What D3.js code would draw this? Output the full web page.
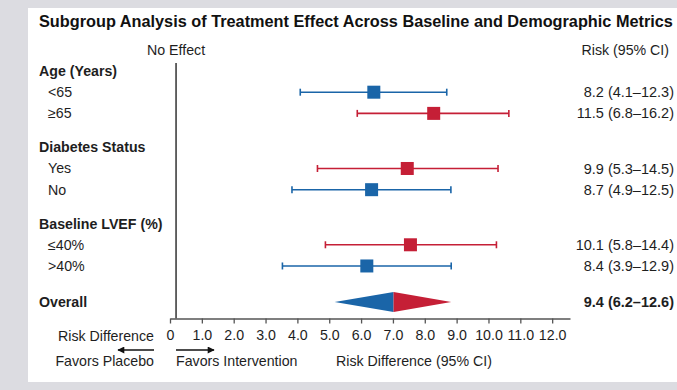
<!DOCTYPE html>
<html>
<head>
<meta charset="utf-8">
<script src="https://cdn.jsdelivr.net/npm/d3@7"></script>
<style>
  html, body { margin: 0; padding: 0; background: #dcdce1; }
  svg { display: block; font-family: "Liberation Sans", Arial, Helvetica, sans-serif; }
</style>
</head>
<body>
<svg id="chart" width="677" height="390"></svg>
<script>
// ---------------- Data ----------------
const title = "Subgroup Analysis of Treatment Effect Across Baseline and Demographic Metrics";
const groups = ["Age (Years)", "Diabetes Status", "Baseline LVEF (%)"];
const subgroups = ["<65", "≥65", "Yes", "No", "≤40%", ">40%"];
const subgroupGroup = [0, 0, 1, 1, 2, 2];
const estimates = [6.40, 8.28, 7.45, 6.33, 7.55, 6.18];
const lowerCI = [4.09, 5.88, 4.63, 3.83, 4.88, 3.53];
const upperCI = [8.69, 10.64, 10.30, 8.82, 10.25, 8.83];
const riskLabels = ["8.2 (4.1–12.3)", "11.5 (6.8–16.2)", "9.9 (5.3–14.5)", "8.7 (4.9–12.5)", "10.1 (5.8–14.4)", "8.4 (3.9–12.9)"];
const overallLabel = "Overall";
const overallEstimate = [7.02];
const overallCI = [5.17, 8.83];
const overallRisk = "9.4 (6.2–12.6)";
const noEffectValue = 0.19;
const tickValues = [0, 1, 2, 3, 4, 5, 6, 7, 8, 9, 10, 11, 12];
const tickLabels = ["0", "1.0", "2.0", "3.0", "4.0", "5.0", "6.0", "7.0", "8.0", "9.0", "10.0", "11.0", "12.0"];

// ---------------- Style ----------------
const BLUE = "#1a65a8";
const RED = "#c51f36";
const TEXT = "#1e1e1e";
const FS = 14.2;

const svg = d3.select("#chart");
svg.append("rect").attr("x", 0).attr("y", 0).attr("width", 677).attr("height", 390).attr("fill", "#dcdce1");
svg.append("rect").attr("x", 28).attr("y", 8).attr("width", 649).attr("height", 374).attr("fill", "#ffffff");

// x scale
const x = d3.scaleLinear().domain([0, 12.56]).range([170, 570]);

// build rows with slot positions
const rows = [];
let slot = 0;
groups.forEach((g, gi) => {
  if (gi > 0) slot += 1.6;
  rows.push({ type: "header", label: g, slot });
  subgroups.forEach((s, i) => {
    if (subgroupGroup[i] === gi) {
      slot += 1;
      rows.push({ type: "item", label: s, slot, est: estimates[i], lo: lowerCI[i], hi: upperCI[i], risk: riskLabels[i] });
    }
  });
});
slot += 1.7;
rows.push({ type: "overall", label: overallLabel, slot, est: overallEstimate[0], lo: overallCI[0], hi: overallCI[1], risk: overallRisk });

const y = d3.scaleLinear().domain([0, slot]).range([71, 302]);

// Title
svg.append("text").attr("x", 39).attr("y", 27)
  .attr("font-size", 16.3).attr("font-weight", "bold").attr("fill", "#111")
  .text(title);

// column headers
svg.append("text").attr("x", x(noEffectValue)).attr("y", 55)
  .attr("text-anchor", "middle").attr("font-size", FS).attr("fill", TEXT).text("No Effect");
svg.append("text").attr("x", 669).attr("y", 55)
  .attr("text-anchor", "end").attr("font-size", FS).attr("fill", TEXT).text("Risk (95% CI)");

// No effect line
svg.append("line")
  .attr("x1", x(noEffectValue)).attr("x2", x(noEffectValue))
  .attr("y1", 63).attr("y2", 318.5)
  .attr("stroke", "#333").attr("stroke-width", 1.5);

// Row labels
rows.forEach(r => {
  svg.append("text")
    .attr("x", r.type === "item" ? 48 : 39)
    .attr("y", y(r.slot)).attr("dy", "0.35em")
    .attr("font-size", FS)
    .attr("font-weight", r.type === "item" ? "normal" : "bold")
    .attr("fill", TEXT)
    .text(r.label);
  if (r.risk) {
    svg.append("text")
      .attr("x", 674).attr("y", y(r.slot)).attr("dy", "0.35em")
      .attr("text-anchor", "end").attr("font-size", 14.5)
      .attr("font-weight", r.type === "overall" ? "bold" : "normal")
      .attr("fill", TEXT).text(r.risk);
  }
});

// Items
const overallEst = overallEstimate[0];
const items = rows.filter(r => r.type === "item");
const g = svg.append("g");
items.forEach(r => {
  const col = r.est > overallEst ? RED : BLUE;
  const yy = y(r.slot);
  g.append("line").attr("x1", x(r.lo)).attr("x2", x(r.hi)).attr("y1", yy).attr("y2", yy)
    .attr("stroke", col).attr("stroke-width", 1.6);
  [r.lo, r.hi].forEach(v => {
    g.append("line").attr("x1", x(v)).attr("x2", x(v)).attr("y1", yy - 3.5).attr("y2", yy + 3.5)
      .attr("stroke", col).attr("stroke-width", 1.6);
  });
  g.append("rect").attr("x", x(r.est) - 6.5).attr("y", yy - 6.5).attr("width", 13).attr("height", 13)
    .attr("fill", col);
});

// Overall diamond
const ov = rows.find(r => r.type === "overall");
const oy = y(ov.slot);
const dh = 10;
g.append("path")
  .attr("d", `M${x(ov.lo)},${oy} L${x(ov.est)},${oy - dh} L${x(ov.est)},${oy + dh} Z`)
  .attr("fill", BLUE);
g.append("path")
  .attr("d", `M${x(ov.est)},${oy - dh} L${x(ov.hi)},${oy} L${x(ov.est)},${oy + dh} Z`)
  .attr("fill", RED);

// Axis
const axis = d3.axisBottom(x)
  .tickValues(tickValues)
  .tickFormat((d, i) => tickLabels[i])
  .tickSizeOuter(0).tickSizeInner(5).tickPadding(6);
const ax = svg.append("g").attr("transform", "translate(0,318.5)").call(axis);
ax.select(".domain").attr("stroke", "#555").attr("stroke-width", 1.5);
ax.selectAll(".tick line").attr("stroke", "#555").attr("stroke-width", 1.3);
ax.selectAll(".tick text").attr("font-size", FS).attr("fill", TEXT)
  .attr("font-family", "'Liberation Sans', Arial, sans-serif");

svg.append("text").attr("x", 154).attr("y", 341).attr("text-anchor", "end")
  .attr("font-size", FS).attr("fill", TEXT).text("Risk Difference");

// Arrows
const defs = svg.append("defs");
defs.append("marker").attr("id", "arrow").attr("viewBox", "0 0 10 10")
  .attr("refX", 9).attr("refY", 5).attr("markerWidth", 8).attr("markerHeight", 7)
  .attr("markerUnits", "userSpaceOnUse").attr("orient", "auto-start-reverse")
  .append("path").attr("d", "M0,0 L10,5 L0,10 Z").attr("fill", "#111");

svg.append("line").attr("x1", 154).attr("x2", 118).attr("y1", 350).attr("y2", 350)
  .attr("stroke", "#111").attr("stroke-width", 1.3).attr("marker-end", "url(#arrow)");
svg.append("line").attr("x1", 176).attr("x2", 214).attr("y1", 350).attr("y2", 350)
  .attr("stroke", "#111").attr("stroke-width", 1.3).attr("marker-end", "url(#arrow)");

svg.append("text").attr("x", 154).attr("y", 366).attr("text-anchor", "end")
  .attr("font-size", FS).attr("fill", TEXT).text("Favors Placebo");
svg.append("text").attr("x", 176).attr("y", 366)
  .attr("font-size", FS).attr("fill", TEXT).text("Favors Intervention");
svg.append("text").attr("x", 414).attr("y", 366).attr("text-anchor", "middle")
  .attr("font-size", FS).attr("fill", TEXT).text("Risk Difference (95% CI)");
</script>
</body>
</html>
